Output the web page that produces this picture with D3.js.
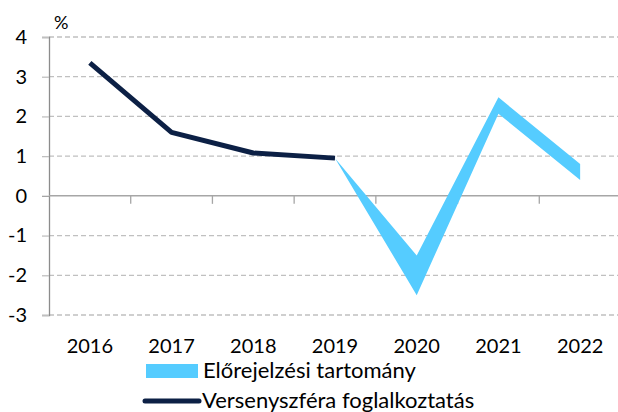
<!DOCTYPE html>
<meta charset="utf-8">
<style>
body { margin:0; background:#fff; font-family: Lato, "Noto Sans", sans-serif; }
.tick text { font-family: Lato, sans-serif; fill:#000; }
.gridline { stroke:#c0c0c0; stroke-width:1.3px; stroke-dasharray:5,3; }
.legend text { font-family: Lato, sans-serif; font-size:22px; fill:#000; }
</style>
<body>
<div id="chart"></div>
<script src="https://d3js.org/d3.v7.min.js"></script>
<script>
// data
var years = ["2016", "2017", "2018", "2019", "2020", "2021", "2022"];
var employment = [3.35, 1.6, 1.08, 0.95];          // Versenyszféra foglalkoztatás 2016-2019
var bandYears = ["2019", "2020", "2021", "2022"];
var bandHigh = [0.95, -1.5, 2.48, 0.8];            // Előrejelzési tartomány, upper edge
var bandLow = [0.95, -2.5, 2.07, 0.4];             // lower edge
var yTicks = [-3, -2, -1, 0, 1, 2, 3, 4];

var width = 618, height = 412;
var plotLeft = 49, plotRight = 621, plotTop = 37, plotBottom = 315;

var svg = d3.select("#chart").append("svg")
    .attr("width", width)
    .attr("height", height);

var x = d3.scaleBand().domain(years).range([plotLeft, plotRight]);
var y = d3.scaleLinear().domain([-3, 4]).range([plotBottom, plotTop]);
var cx = function(yr) { return x(yr) + x.bandwidth() / 2; };

// gridlines (dashed, skip zero)
svg.selectAll("line.gridline")
    .data(yTicks.filter(function(d) { return d !== 0; }))
  .enter().append("line")
    .attr("class", "gridline")
    .attr("x1", plotLeft).attr("x2", width)
    .attr("y1", function(d) { return y(d); })
    .attr("y2", function(d) { return y(d); });

// y axis - plain hyphen for negatives, like the original
var yAxis = svg.append("g")
    .attr("transform", "translate(" + plotLeft + ",0)")
    .call(d3.axisLeft(y).tickValues(yTicks).tickSize(7).tickPadding(15)
      .tickFormat(function(d) { return String(d); }));
yAxis.select(".domain").attr("stroke", "#8c8c8c").attr("stroke-width", 1.3);
yAxis.selectAll(".tick line").attr("stroke", function(d) { return d === 0 ? "#a6a6a6" : "#c0c0c0"; })
    .attr("stroke-width", 1.3);
yAxis.selectAll(".tick text").style("font-size", "20px");

// zero line with category-boundary ticks
svg.append("line")
    .attr("x1", plotLeft).attr("x2", width)
    .attr("y1", y(0)).attr("y2", y(0))
    .attr("stroke", "#a6a6a6").attr("stroke-width", 1.5);
svg.selectAll("line.xtick")
    .data(years.slice(1))
  .enter().append("line")
    .attr("class", "xtick")
    .attr("x1", function(d) { return x(d); })
    .attr("x2", function(d) { return x(d); })
    .attr("y1", y(0)).attr("y2", y(0) + 8)
    .attr("stroke", "#a6a6a6").attr("stroke-width", 1.3);

// x labels
svg.selectAll("text.xlab")
    .data(years)
  .enter().append("text")
    .attr("class", "xlab")
    .attr("x", function(d) { return cx(d); })
    .attr("y", 353)
    .attr("text-anchor", "middle")
    .style("font-size", "20px")
    .text(function(d) { return d; });

// % unit
svg.append("text")
    .attr("x", 54).attr("y", 29)
    .style("font-size", "18px")
    .text("%");

// forecast band
var band = bandYears.map(function(yr, i) { return {yr: yr, hi: bandHigh[i], lo: bandLow[i]}; });
var area = d3.area()
    .x(function(d) { return cx(d.yr); })
    .y0(function(d) { return y(d.lo); })
    .y1(function(d) { return y(d.hi); });
svg.append("path")
    .datum(band)
    .attr("fill", "#55ccff")
    .attr("d", area);

// employment line
var line = d3.line()
    .x(function(d, i) { return cx(years[i]); })
    .y(function(d) { return y(d); });
svg.append("path")
    .datum(employment)
    .attr("fill", "none")
    .attr("stroke", "#0c2045")
    .attr("stroke-width", 5)
    .attr("stroke-linejoin", "round")
    .attr("d", line);

// legend
var lg = svg.append("g").attr("class", "legend");
lg.append("rect")
    .attr("x", 146).attr("y", 364).attr("width", 52).attr("height", 14)
    .attr("fill", "#55ccff");
lg.append("text").attr("x", 203).attr("y", 378).text("Előrejelzési tartomány");
lg.append("line")
    .attr("x1", 145).attr("x2", 199).attr("y1", 401).attr("y2", 401)
    .attr("stroke", "#0c2045").attr("stroke-width", 5).attr("stroke-linecap", "round");
lg.append("text").attr("x", 202).attr("y", 408).text("Versenyszféra foglalkoztatás");
</script>
</body>
